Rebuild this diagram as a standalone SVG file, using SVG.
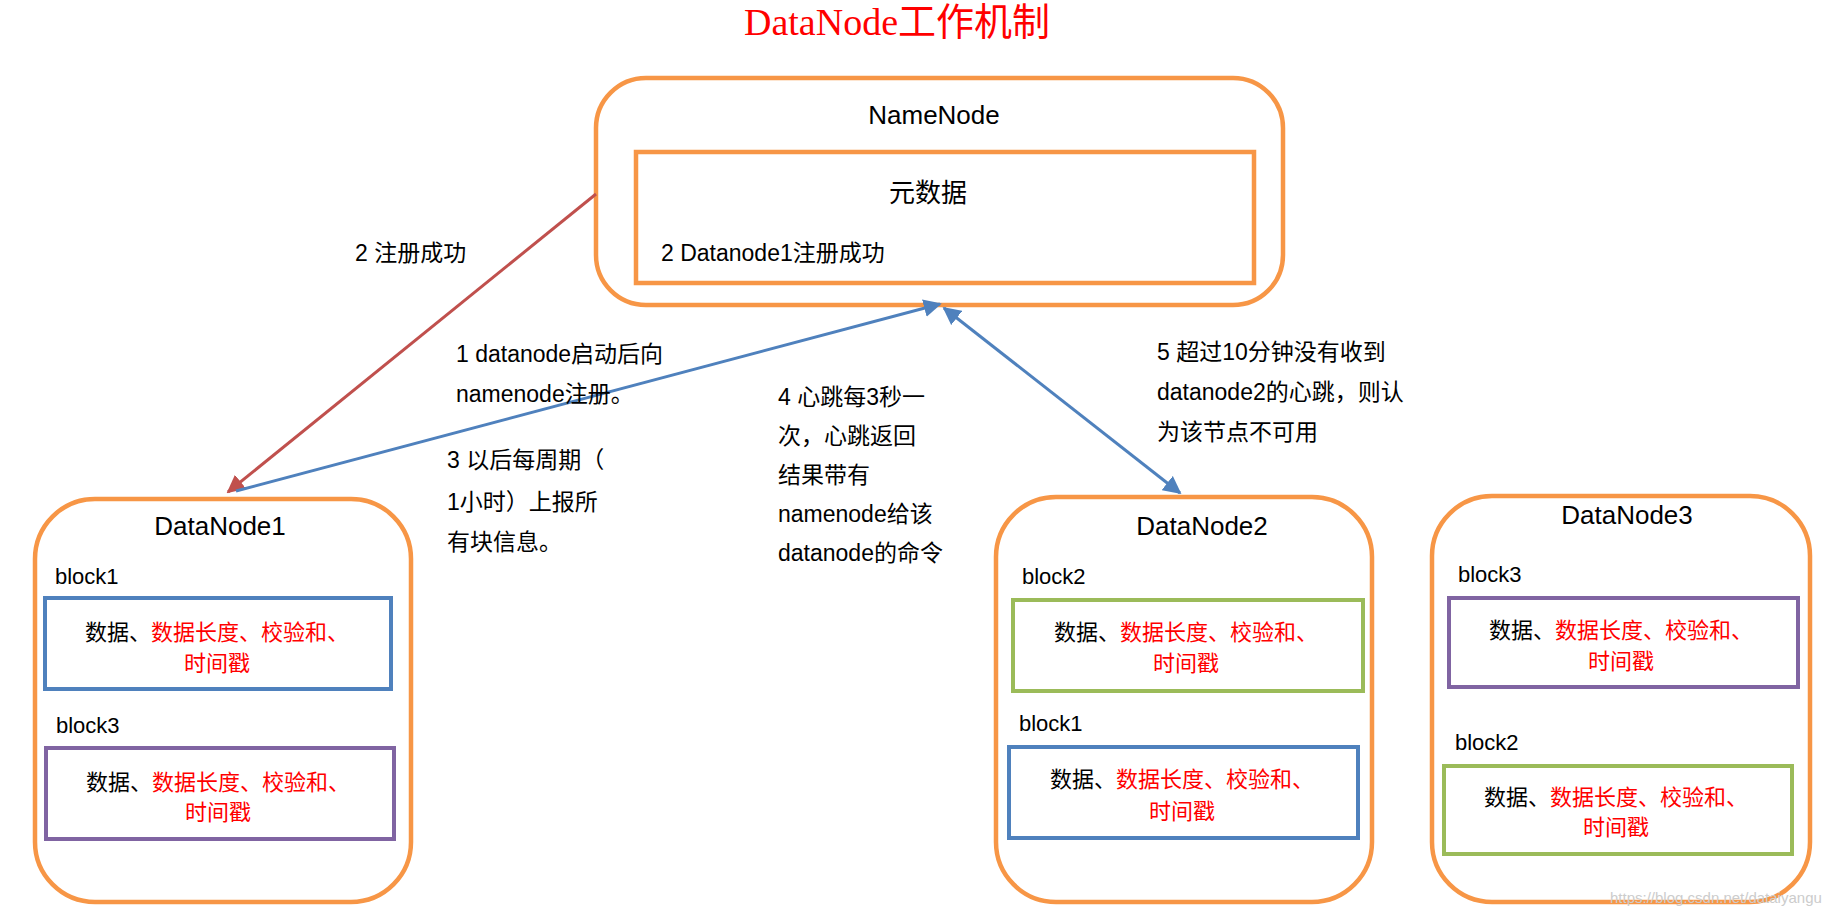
<svg xmlns="http://www.w3.org/2000/svg" width="1842" height="916" viewBox="0 0 1842 916">
<style>
.t{font-family:"Liberation Sans","Noto Sans CJK SC",sans-serif;fill:#000}
.n{font-size:26px}
.l{font-size:23px}
.b{font-size:22px}
.c{font-size:22px;text-anchor:middle}
.r{fill:#FF0000}
.o{fill:#fff;stroke:#F79646;stroke-width:4.5}
.bl{fill:#fff;stroke:#4F81BD;stroke-width:4}
.pu{fill:#fff;stroke:#8064A2;stroke-width:4}
.gr{fill:#fff;stroke:#9BBB59;stroke-width:4}
</style>
<defs>
<marker id="ab" viewBox="0 0 10 10" refX="9" refY="5" markerWidth="6" markerHeight="6" orient="auto-start-reverse"><path d="M0,0L10,5L0,10z" fill="#4F81BD"/></marker>
<marker id="ar" viewBox="0 0 10 10" refX="9" refY="5" markerWidth="6" markerHeight="6" orient="auto"><path d="M0,0L10,5L0,10z" fill="#C0504D"/></marker>
</defs>
<rect width="1842" height="916" fill="#fff"/>
<text x="897" y="35" font-family="Liberation Serif,Noto Sans CJK SC,serif" font-size="38" fill="#FF0000" text-anchor="middle">DataNode工作机制</text>
<g id="namenode">
<rect class="o" x="596" y="78" width="687" height="227" rx="50"/>
<rect class="o" x="636" y="152" width="618" height="131" rx="0"/>
<text class="t n" x="934" y="124" text-anchor="middle">NameNode</text>
<text class="t n" x="928" y="202" text-anchor="middle">元数据</text>
<text class="t l" x="661" y="261">2 Datanode1注册成功</text>
</g>
<g id="datanode1">
<rect class="o" x="35" y="499" width="376" height="403" rx="60"/>
<text class="t n" x="220" y="535" text-anchor="middle">DataNode1</text>
<text class="t b" x="55" y="584">block1</text>
<rect class="bl" x="45" y="598" width="346" height="91"/>
<text class="t c" x="217" y="640">数据、<tspan class="r">数据长度、校验和、</tspan></text>
<text class="t c r" x="217" y="671">时间戳</text>
<text class="t b" x="56" y="733">block3</text>
<rect class="pu" x="46" y="748" width="348" height="91"/>
<text class="t c" x="218" y="790">数据、<tspan class="r">数据长度、校验和、</tspan></text>
<text class="t c r" x="218" y="820">时间戳</text>
</g>
<g id="datanode2">
<rect class="o" x="996" y="497" width="376" height="405" rx="60"/>
<text class="t n" x="1202" y="535" text-anchor="middle">DataNode2</text>
<text class="t b" x="1022" y="584">block2</text>
<rect class="gr" x="1013" y="600" width="350" height="91"/>
<text class="t c" x="1186" y="640">数据、<tspan class="r">数据长度、校验和、</tspan></text>
<text class="t c r" x="1186" y="671">时间戳</text>
<text class="t b" x="1019" y="731">block1</text>
<rect class="bl" x="1009" y="747" width="349" height="91"/>
<text class="t c" x="1182" y="787">数据、<tspan class="r">数据长度、校验和、</tspan></text>
<text class="t c r" x="1182" y="819">时间戳</text>
</g>
<g id="datanode3">
<rect class="o" x="1432" y="496" width="378" height="406" rx="60"/>
<text class="t n" x="1627" y="524" text-anchor="middle">DataNode3</text>
<text class="t b" x="1458" y="582">block3</text>
<rect class="pu" x="1449" y="598" width="349" height="89"/>
<text class="t c" x="1621" y="638">数据、<tspan class="r">数据长度、校验和、</tspan></text>
<text class="t c r" x="1621" y="669">时间戳</text>
<text class="t b" x="1455" y="750">block2</text>
<rect class="gr" x="1444" y="766" width="348" height="88"/>
<text class="t c" x="1616" y="805">数据、<tspan class="r">数据长度、校验和、</tspan></text>
<text class="t c r" x="1616" y="835">时间戳</text>
</g>
<g id="connectors" fill="none" stroke-width="3">
<line x1="596" y1="194" x2="228" y2="492" stroke="#C0504D" marker-end="url(#ar)"/>
<line x1="236" y1="491" x2="940" y2="304" stroke="#4F81BD" marker-end="url(#ab)"/>
<line x1="944" y1="308" x2="1180" y2="493" stroke="#4F81BD" marker-start="url(#ab)" marker-end="url(#ab)"/>
</g>
<g id="labels" class="t l">
<text x="355" y="261">2 注册成功</text>
<text x="456" y="362">1 datanode启动后向</text>
<text x="456" y="402">namenode注册。</text>
<text x="447" y="468">3 以后每周期（</text>
<text x="447" y="510">1小时）上报所</text>
<text x="447" y="550">有块信息。</text>
<text x="778" y="405">4 心跳每3秒一</text>
<text x="778" y="444">次，心跳返回</text>
<text x="778" y="483">结果带有</text>
<text x="778" y="522">namenode给该</text>
<text x="778" y="561">datanode的命令</text>
<text x="1157" y="360">5 超过10分钟没有收到</text>
<text x="1157" y="400">datanode2的心跳，则认</text>
<text x="1157" y="440">为该节点不可用</text>
</g>
<text x="1610" y="903" font-family="Liberation Sans,sans-serif" font-size="15" fill="#ccc">https://blog.csdn.net/dataiyangu</text>
</svg>
